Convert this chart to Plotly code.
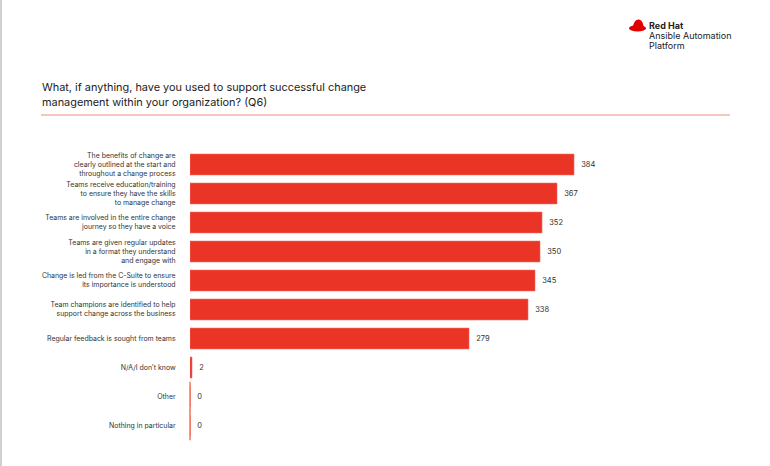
import plotly.graph_objects as go

categories = [
    "The benefits of change are<br>clearly outlined at the start and<br>throughout a change process",
    "Teams receive education/training<br>to ensure they have the skills<br>to manage change",
    "Teams are involved in the entire change<br>journey so they have a voice",
    "Teams are given regular updates<br>in a format they understand<br>and engage with",
    "Change is led from the C-Suite to ensure<br>its importance is understood",
    "Team champions are identified to help<br>support change across the business",
    "Regular feedback is sought from teams",
    "N/A/I don\u2019t know",
    "Other",
    "Nothing in particular",
]
values = [384, 367, 352, 350, 345, 338, 279, 2, 0, 0]

title_lines = [
    "What, if anything, have you used to support successful change",
    "management within your organization? (Q6)",
]
logo_lines = ["<b>Red Hat</b>", "Ansible Automation", "Platform"]

RED = "#ea3426"
LIGHT = "#f5a39c"
FONT = "Inter, Open Sans, sans-serif"

L, R, T, B = 190, 40, 150, 26
W, H = 770, 466
PW, PH = W - L - R, H - T - B


def px(x):
    return (x - L) / PW


def py(y):
    return 1 + (T - y) / PH


fig = go.Figure()
fig.add_trace(go.Bar(
    y=categories, x=values, orientation="h",
    marker=dict(color=RED, line=dict(color="#f26a5f", width=0.6)),
    width=0.72,
    text=[f"  {v}" for v in values], textposition="outside",
    textfont=dict(size=7.5, color="#333333", family=FONT),
    cliponaxis=False, hoverinfo="skip",
))
zero_cats = [c for c, v in zip(categories, values) if v == 0]
fig.add_trace(go.Scatter(
    y=zero_cats, x=[0] * len(zero_cats), mode="markers",
    marker=dict(symbol="line-ns-open", size=21, line=dict(color=LIGHT, width=1.2)),
    hoverinfo="skip", cliponaxis=False,
))

fig.update_layout(
    width=W, height=H,
    paper_bgcolor="white", plot_bgcolor="white",
    margin=dict(l=L, r=R, t=T, b=B, autoexpand=False),
    showlegend=False, bargap=0.28,
    font=dict(family=FONT, color="#222222"),
    xaxis=dict(range=[0, 540], visible=False, automargin=False),
    yaxis=dict(range=[len(categories) - 0.5, -0.5], autorange=False,
               showgrid=False, zeroline=False, showline=False,
               automargin=False,
               ticks="outside", ticklen=12, tickcolor="rgba(0,0,0,0)",
               tickfont=dict(size=6.95, color="#333333", family=FONT)),
)

for i, line in enumerate(title_lines):
    fig.add_annotation(text=line, xref="paper", yref="paper",
                       x=px(40), y=py(87 + 15 * i), xanchor="left", yanchor="middle",
                       showarrow=False, align="left",
                       font=dict(size=10.9, color="#222222", family=FONT))
# divider under title
fig.add_shape(type="line", xref="paper", yref="paper", x0=px(41), x1=px(730),
              y0=py(115), y1=py(115), line=dict(color="#f28b82", width=1))
# left border
fig.add_shape(type="line", xref="paper", yref="paper", x0=px(1), x1=px(1),
              y0=py(466), y1=py(0), line=dict(color="#d0d0d0", width=2))

# logo text
for i, line in enumerate(logo_lines):
    fig.add_annotation(text=line, xref="paper", yref="paper",
                       x=px(647), y=py(25 + 10.5 * i), xanchor="left", yanchor="middle",
                       showarrow=False, align="left",
                       font=dict(size=9, color="#222222", family=FONT))
# hat icon
fig.add_shape(type="path", xref="paper", yref="paper",
              path=(f"M {px(633)},{py(27)} Q {px(634)},{py(19)} {px(639)},{py(19.5)} "
                    f"Q {px(643)},{py(20)} {px(643.5)},{py(27)} Z"),
              fillcolor="#e00000", line=dict(width=0))
fig.add_shape(type="circle", xref="paper", yref="paper",
              x0=px(629), x1=px(646), y0=py(31.5), y1=py(25),
              fillcolor="#e00000", line=dict(width=0))

fig.write_html("out.html", config={"displayModeBar": False},
               post_script="document.body.style.margin='0';document.body.style.overflow='hidden';")
